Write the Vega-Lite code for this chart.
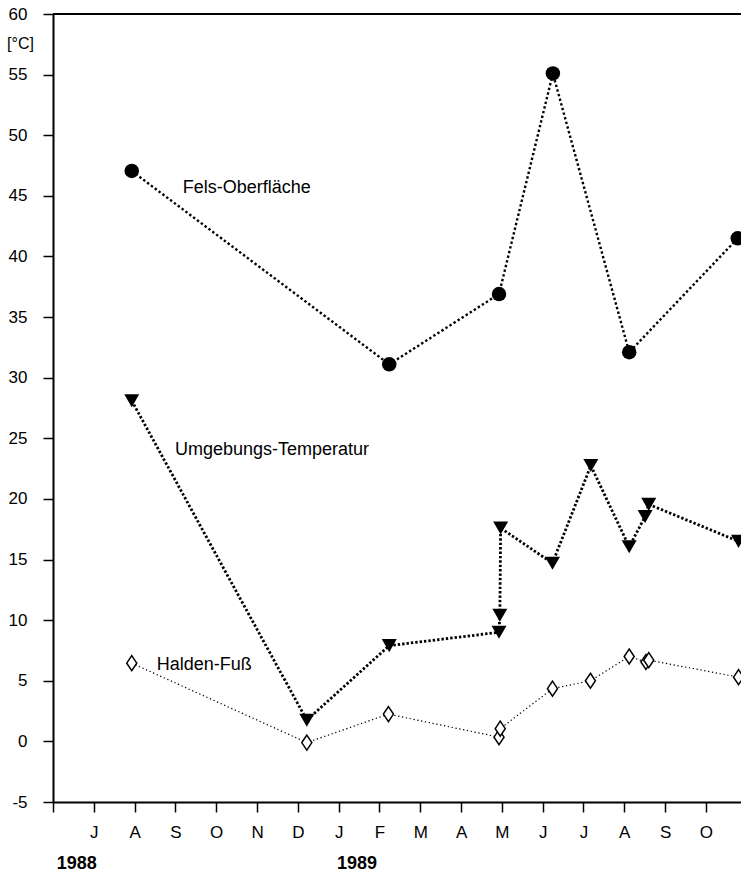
{
  "$schema": "https://vega.github.io/schema/vega-lite/v6.json",
  "autosize": {"type": "none"},
  "padding": {"left": 53, "top": 14, "right": 0, "bottom": 72},
  "width": 688,
  "height": 788,
  "background": "white",
  "config": {
    "view": {"stroke": null},
    "font": "Liberation Sans",
    "text": {"font": "Liberation Sans", "color": "#000"}
  },
  "datasets": {
    "messwerte": [
      {"reihe": "Fels-Oberfläche", "monat": 1.93, "temp": 47.05},
      {"reihe": "Fels-Oberfläche", "monat": 8.24, "temp": 31.1},
      {"reihe": "Fels-Oberfläche", "monat": 10.93, "temp": 36.9},
      {"reihe": "Fels-Oberfläche", "monat": 12.25, "temp": 55.1},
      {"reihe": "Fels-Oberfläche", "monat": 14.12, "temp": 32.1},
      {"reihe": "Fels-Oberfläche", "monat": 16.78, "temp": 41.5},

      {"reihe": "Umgebungs-Temperatur", "monat": 1.93, "temp": 28.1},
      {"reihe": "Umgebungs-Temperatur", "monat": 6.22, "temp": 1.75},
      {"reihe": "Umgebungs-Temperatur", "monat": 8.24, "temp": 7.9},
      {"reihe": "Umgebungs-Temperatur", "monat": 10.93, "temp": 9.0},
      {"reihe": "Umgebungs-Temperatur", "monat": 10.95, "temp": 10.4},
      {"reihe": "Umgebungs-Temperatur", "monat": 10.97, "temp": 17.6},
      {"reihe": "Umgebungs-Temperatur", "monat": 12.24, "temp": 14.7},
      {"reihe": "Umgebungs-Temperatur", "monat": 13.18, "temp": 22.75},
      {"reihe": "Umgebungs-Temperatur", "monat": 14.12, "temp": 16.05},
      {"reihe": "Umgebungs-Temperatur", "monat": 14.51, "temp": 18.55},
      {"reihe": "Umgebungs-Temperatur", "monat": 14.6, "temp": 19.55},
      {"reihe": "Umgebungs-Temperatur", "monat": 16.8, "temp": 16.5},

      {"reihe": "Halden-Fuß", "monat": 1.93, "temp": 6.45},
      {"reihe": "Halden-Fuß", "monat": 6.22, "temp": -0.1},
      {"reihe": "Halden-Fuß", "monat": 8.22, "temp": 2.25},
      {"reihe": "Halden-Fuß", "monat": 10.93, "temp": 0.35},
      {"reihe": "Halden-Fuß", "monat": 10.96, "temp": 1.05},
      {"reihe": "Halden-Fuß", "monat": 12.24, "temp": 4.35},
      {"reihe": "Halden-Fuß", "monat": 13.17, "temp": 5.0},
      {"reihe": "Halden-Fuß", "monat": 14.12, "temp": 7.0},
      {"reihe": "Halden-Fuß", "monat": 14.53, "temp": 6.55},
      {"reihe": "Halden-Fuß", "monat": 14.6, "temp": 6.7},
      {"reihe": "Halden-Fuß", "monat": 16.8, "temp": 5.3}
    ],
    "beschriftung": [
      {"text": "Fels-Oberfläche", "monat": 3.18, "temp": 45.2, "art": "reihe"},
      {"text": "Umgebungs-Temperatur", "monat": 2.99, "temp": 23.6, "art": "reihe"},
      {"text": "Halden-Fuß", "monat": 2.54, "temp": 5.92, "art": "reihe"},
      {"text": "1988", "monat": 0.09, "temp": -10.55, "art": "jahr"},
      {"text": "1989", "monat": 6.96, "temp": -10.55, "art": "jahr"}
    ]
  },
  "layer": [
    {
      "description": "upper frame line at 60 °C",
      "data": {"values": [{"temp": 60}]},
      "mark": {"type": "rule", "color": "#000", "strokeWidth": 2},
      "encoding": {"y": {"field": "temp", "type": "quantitative"}}
    },
    {
      "data": {"name": "messwerte"},
      "transform": [{"filter": "datum.reihe === 'Fels-Oberfläche'"}],
      "mark": {"type": "line", "color": "#000", "strokeWidth": 2.4, "strokeDash": [2.4, 2.4], "strokeCap": "butt"},
      "encoding": {
        "x": {
          "field": "monat", "type": "quantitative",
          "scale": {"domain": [0, 16.86], "nice": false, "zero": false},
          "axis": {
            "title": null,
            "values": [0, 1, 2, 3, 4, 5, 6, 7, 8, 9, 10, 11, 12, 13, 14, 15, 16],
            "labelExpr": "['', 'J', 'A', 'S', 'O', 'N', 'D', 'J', 'F', 'M', 'A', 'M', 'J', 'J', 'A', 'S', 'O'][datum.value]",
            "grid": false,
            "domainColor": "#000", "domainWidth": 2,
            "tickColor": "#000", "tickWidth": 1.5, "tickSize": 10,
            "labelFont": "Liberation Sans", "labelFontSize": 17, "labelColor": "#000",
            "labelPadding": 12, "labelAlign": "center", "labelOverlap": false
          }
        },
        "y": {
          "field": "temp", "type": "quantitative",
          "scale": {"domain": [-5, 60], "nice": false, "zero": false},
          "axis": {
            "title": "[°C]",
            "titleAngle": 0, "titleX": -33, "titleY": 29,
            "titleAlign": "center", "titleBaseline": "middle",
            "titleFont": "Liberation Sans", "titleFontSize": 16, "titleFontWeight": "normal", "titleColor": "#000",
            "values": [-5, 0, 5, 10, 15, 20, 25, 30, 35, 40, 45, 50, 55, 60],
            "labelExpr": "'' + datum.value",
            "grid": false,
            "domainColor": "#000", "domainWidth": 2,
            "tickColor": "#000", "tickWidth": 1.5, "tickSize": 10,
            "labelFont": "Liberation Sans", "labelFontSize": 17, "labelColor": "#000",
            "labelPadding": 16, "labelOverlap": false
          }
        }
      }
    },
    {
      "data": {"name": "messwerte"},
      "transform": [{"filter": "datum.reihe === 'Umgebungs-Temperatur'"}],
      "mark": {"type": "line", "color": "#000", "strokeWidth": 2.8, "strokeDash": [2.4, 2.0], "strokeCap": "butt"},
      "encoding": {
        "x": {"field": "monat", "type": "quantitative"},
        "y": {"field": "temp", "type": "quantitative"}
      }
    },
    {
      "data": {"name": "messwerte"},
      "transform": [{"filter": "datum.reihe === 'Halden-Fuß'"}],
      "mark": {"type": "line", "color": "#000", "strokeWidth": 1.2, "strokeDash": [1.3, 2.6], "strokeCap": "butt"},
      "encoding": {
        "x": {"field": "monat", "type": "quantitative"},
        "y": {"field": "temp", "type": "quantitative"}
      }
    },
    {
      "data": {"name": "messwerte"},
      "transform": [{"filter": "datum.reihe === 'Fels-Oberfläche'"}],
      "mark": {"type": "point", "shape": "circle", "filled": true, "color": "#000", "size": 210, "opacity": 1},
      "encoding": {
        "x": {"field": "monat", "type": "quantitative"},
        "y": {"field": "temp", "type": "quantitative"}
      }
    },
    {
      "data": {"name": "messwerte"},
      "transform": [{"filter": "datum.reihe === 'Umgebungs-Temperatur'"}],
      "mark": {"type": "point", "shape": "M-1,-0.87L1,-0.87L0,0.87Z", "filled": true, "color": "#000", "size": 225, "opacity": 1},
      "encoding": {
        "x": {"field": "monat", "type": "quantitative"},
        "y": {"field": "temp", "type": "quantitative"}
      }
    },
    {
      "data": {"name": "messwerte"},
      "transform": [{"filter": "datum.reihe === 'Halden-Fuß'"}],
      "mark": {"type": "point", "shape": "M0,-1L0.67,0L0,1L-0.67,0Z", "filled": false, "fill": "#fff", "fillOpacity": 1, "stroke": "#000", "strokeWidth": 1.5, "size": 225, "opacity": 1},
      "encoding": {
        "x": {"field": "monat", "type": "quantitative"},
        "y": {"field": "temp", "type": "quantitative"}
      }
    },
    {
      "data": {"name": "beschriftung"},
      "transform": [{"filter": "datum.art === 'reihe'"}],
      "mark": {"type": "text", "align": "left", "baseline": "alphabetic", "fontSize": 18, "color": "#000"},
      "encoding": {
        "x": {"field": "monat", "type": "quantitative"},
        "y": {"field": "temp", "type": "quantitative"},
        "text": {"field": "text"}
      }
    },
    {
      "data": {"name": "beschriftung"},
      "transform": [{"filter": "datum.art === 'jahr'"}],
      "mark": {"type": "text", "align": "left", "baseline": "alphabetic", "fontSize": 18, "fontWeight": "bold", "color": "#000"},
      "encoding": {
        "x": {"field": "monat", "type": "quantitative"},
        "y": {"field": "temp", "type": "quantitative"},
        "text": {"field": "text"}
      }
    }
  ]
}
